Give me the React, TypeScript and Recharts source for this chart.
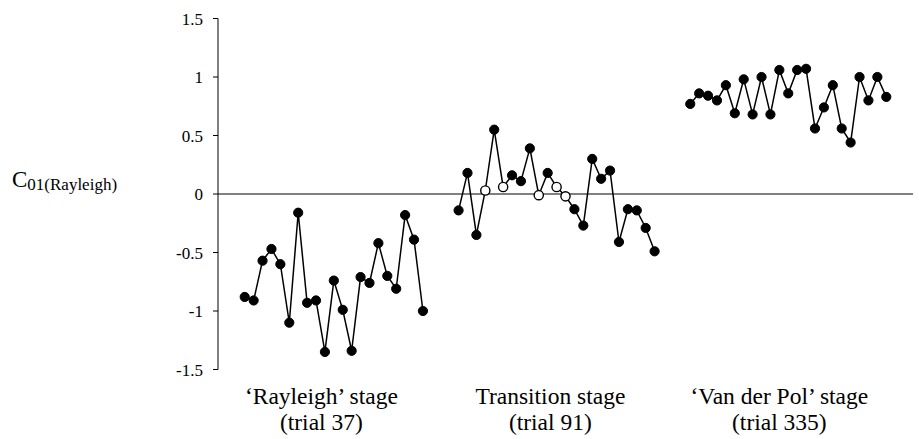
import { LineChart, Line, XAxis, YAxis, ReferenceLine } from 'recharts';

// C01 values, one list per stage
const rayleighValues = [-0.88, -0.91, -0.57, -0.47, -0.6, -1.1, -0.16, -0.93, -0.91, -1.35, -0.74, -0.99, -1.34, -0.71, -0.76, -0.42, -0.7, -0.81, -0.18, -0.39, -1.0];
const transitionValues = [-0.14, 0.18, -0.35, 0.03, 0.55, 0.06, 0.16, 0.11, 0.39, -0.01, 0.18, 0.06, -0.02, -0.13, -0.27, 0.3, 0.13, 0.2, -0.41, -0.13, -0.14, -0.29, -0.49];
const transitionOpen = [3, 5, 9, 11, 12];
const vanDerPolValues = [0.77, 0.86, 0.84, 0.8, 0.93, 0.69, 0.98, 0.68, 1.0, 0.68, 1.06, 0.86, 1.06, 1.07, 0.56, 0.74, 0.93, 0.56, 0.44, 1.0, 0.8, 1.0, 0.83];

// where each stage starts on the trial axis (3 empty slots between stages)
const stageStart = [0, 24, 50];

const stageNames = ['\u2018Rayleigh\u2019 stage', 'Transition stage', '\u2018Van der Pol\u2019 stage'];
const stageTrials = ['(trial 37)', '(trial 91)', '(trial 335)'];
const stageLabelPos = [8.6, 34.3, 60];

const yTicks = [-1.5, -1, -0.5, 0, 0.5, 1, 1.5];

const FONT = '"Liberation Serif", "Times New Roman", serif';

const buildRows = () => {
    const end = stageStart[2] + vanDerPolValues.length;
    const rows: any[] = [];
    for (let i = 0; i < end; i++) {
        rows.push({ x: i, r: null, t: null, v: null, open: false });
    }
    rayleighValues.forEach((v, i) => { rows[stageStart[0] + i].r = v; });
    transitionValues.forEach((v, i) => {
        rows[stageStart[1] + i].t = v;
        rows[stageStart[1] + i].open = transitionOpen.includes(i);
    });
    vanDerPolValues.forEach((v, i) => { rows[stageStart[2] + i].v = v; });
    return rows;
};

const data = buildRows();

const Dot = (props: any) => {
    const { cx, cy, payload, value } = props;
    if (value == null || cx == null || cy == null) return <g key={props.key} />;
    const open = payload && payload.open;
    return (
        <circle
            key={props.key}
            cx={cx}
            cy={cy}
            r={4.6}
            fill={open ? '#fff' : '#000'}
            stroke="#000"
            strokeWidth={open ? 1.4 : 1}
        />
    );
};

const StageTick = (props: any) => {
    const { x, y, payload } = props;
    const idx = stageLabelPos.indexOf(payload.value);
    return (
        <g transform={`translate(${x},${y})`}>
            <text textAnchor="middle" fontFamily={FONT} fontSize={23.5} fill="#000">
                <tspan x={0} dy={26.5}>{stageNames[idx]}</tspan>
                <tspan x={0} dy={26}>{stageTrials[idx]}</tspan>
            </text>
        </g>
    );
};

const YTitle = () => (
    <text x={12} y={187} fontFamily={FONT} fill="#000">
        <tspan fontSize={23}>C</tspan>
        <tspan fontSize={17} dy={2.5}>01(Rayleigh)</tspan>
    </text>
);

export default function App() {
    return (
        <div style={{ position: 'absolute', left: 0, top: 0, width: 919, height: 439, background: '#fff' }}>
            <LineChart width={919} height={439} data={data} margin={{ top: 18.5, right: 6, bottom: 0, left: 0 }}>
                <XAxis
                    type="number"
                    dataKey="x"
                    domain={[-3, 75]}
                    ticks={stageLabelPos}
                    axisLine={false}
                    tickLine={false}
                    height={69.5}
                    tick={<StageTick />}
                    interval={0}
                />
                <YAxis
                    type="number"
                    domain={[-1.5, 1.5]}
                    ticks={yTicks}
                    width={218}
                    axisLine={{ stroke: '#000', strokeWidth: 1 }}
                    tickLine={{ stroke: '#000', strokeWidth: 1 }}
                    tickSize={5}
                    tickMargin={10}
                    tick={{ fill: '#000', fontFamily: FONT, fontSize: 17 }}
                    label={{ content: <YTitle /> }}
                />
                <ReferenceLine y={0} stroke="#808080" strokeWidth={2} />
                <Line dataKey="r" stroke="#000" strokeWidth={1.5} dot={<Dot />} activeDot={false} isAnimationActive={false} connectNulls={false} />
                <Line dataKey="t" stroke="#000" strokeWidth={1.5} dot={<Dot />} activeDot={false} isAnimationActive={false} connectNulls={false} />
                <Line dataKey="v" stroke="#000" strokeWidth={1.5} dot={<Dot />} activeDot={false} isAnimationActive={false} connectNulls={false} />
            </LineChart>
        </div>
    );
}
